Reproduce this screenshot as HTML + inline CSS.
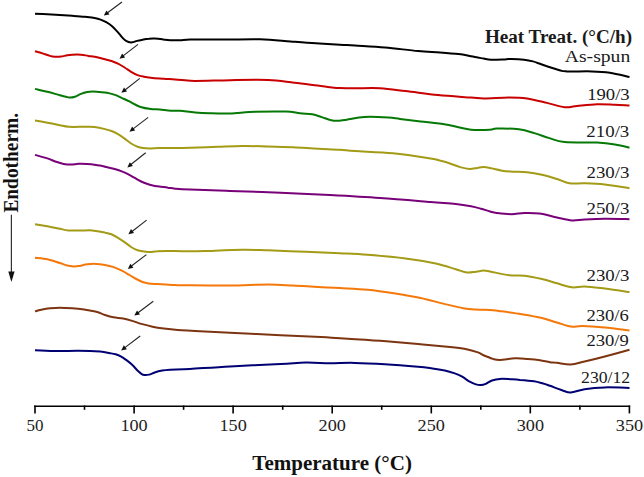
<!DOCTYPE html>
<html><head><meta charset="utf-8"><style>
html,body{margin:0;padding:0;background:#fff;}
svg{display:block;}
</style></head><body>
<svg width="644" height="477" viewBox="0 0 644 477">
<rect width="644" height="477" fill="#fff"/>
<path d="M35.0,13.7 C37.1,13.8 43.3,14.1 47.4,14.3 C51.5,14.5 55.6,14.7 59.8,14.9 C63.9,15.2 68.1,15.5 72.3,15.8 C76.5,16.1 81.0,16.4 84.7,16.8 C88.4,17.2 91.9,17.5 94.6,18.0 C97.2,18.5 98.7,18.9 100.6,19.6 C102.5,20.3 104.3,21.1 106.2,22.2 C108.1,23.3 110.1,24.6 111.8,26.0 C113.5,27.4 114.9,28.9 116.4,30.6 C118.0,32.3 119.7,34.6 121.1,36.2 C122.5,37.8 123.5,39.0 124.8,40.0 C126.0,41.0 127.3,41.6 128.6,42.0 C129.8,42.4 130.9,42.5 132.3,42.3 C133.7,42.1 135.1,41.4 137.0,40.9 C138.9,40.4 141.5,39.9 143.5,39.5 C145.5,39.1 147.2,38.9 149.1,38.8 C151.0,38.6 152.7,38.5 155.0,38.6 C157.3,38.7 160.5,39.1 163.0,39.4 C165.5,39.7 167.2,40.1 170.0,40.2 C172.8,40.3 176.7,40.3 180.0,40.2 C183.3,40.1 184.2,39.5 190.0,39.4 C195.8,39.3 203.3,39.6 215.0,39.6 C226.7,39.6 247.4,38.9 260.0,39.2 C272.6,39.5 281.4,40.8 290.7,41.5 C300.0,42.2 307.6,42.8 315.8,43.3 C324.0,43.8 333.5,44.4 340.0,44.8 C346.5,45.2 347.5,45.0 355.0,45.5 C362.5,46.0 374.5,46.6 385.0,47.5 C395.5,48.4 408.8,50.2 418.0,51.0 C427.2,51.8 433.2,51.9 440.0,52.4 C446.8,52.9 453.4,53.4 458.6,54.0 C463.8,54.6 466.9,55.5 471.0,56.3 C475.1,57.1 480.2,58.0 483.5,58.6 C486.8,59.2 487.4,59.6 491.0,59.7 C494.6,59.8 501.6,59.5 505.0,59.4 C508.4,59.3 508.2,58.8 511.4,58.9 C514.6,59.0 520.4,59.3 524.0,59.7 C527.6,60.1 530.0,60.6 533.0,61.4 C536.0,62.2 537.5,63.0 541.9,64.5 C546.3,66.0 555.3,69.0 559.5,70.2 C563.7,71.4 561.6,71.2 567.0,71.4 C572.4,71.6 584.9,71.2 592.0,71.4 C599.1,71.6 603.5,71.8 609.8,72.7 C616.0,73.6 626.2,76.3 629.5,77.0" stroke="#000000" stroke-width="2" fill="none" stroke-linejoin="round" stroke-linecap="butt"/>
<path d="M35.0,51.2 C36.2,51.6 40.0,52.6 42.5,53.4 C45.0,54.2 47.8,55.3 49.9,55.9 C52.0,56.5 53.0,56.7 54.9,56.8 C56.8,56.9 59.0,56.9 61.1,56.6 C63.2,56.3 65.4,55.5 67.3,55.2 C69.2,54.9 70.0,54.8 72.3,54.7 C74.6,54.6 78.3,54.5 81.0,54.7 C83.7,54.9 85.7,55.5 88.4,55.9 C91.1,56.3 94.3,56.6 97.1,57.2 C99.9,57.8 102.6,58.7 105.0,59.3 C107.4,59.9 109.3,60.3 111.5,61.0 C113.7,61.7 115.8,62.6 118.0,63.7 C120.2,64.8 122.4,66.2 124.6,67.5 C126.8,68.8 128.9,70.5 131.1,71.8 C133.3,73.1 135.4,74.3 137.6,75.1 C139.8,75.9 141.6,76.2 144.1,76.7 C146.6,77.2 149.5,77.7 152.8,78.0 C156.1,78.3 160.0,78.5 163.7,78.7 C167.4,79.0 171.4,79.2 175.0,79.5 C178.6,79.8 181.7,80.1 185.0,80.3 C188.3,80.5 187.5,80.9 195.0,80.9 C202.5,80.9 217.8,80.4 230.0,80.2 C242.2,80.0 257.3,79.6 268.0,80.0 C278.7,80.4 286.0,81.9 294.3,82.8 C302.6,83.7 311.7,84.9 317.6,85.6 C323.6,86.3 326.3,86.8 330.0,87.2 C333.7,87.6 335.8,87.9 340.0,88.1 C344.2,88.3 348.3,88.3 355.0,88.3 C361.7,88.3 371.6,87.7 380.0,88.2 C388.4,88.7 395.8,89.9 405.5,91.1 C415.2,92.2 427.1,94.0 438.0,95.1 C448.9,96.2 463.3,97.0 471.0,97.6 C478.7,98.1 477.7,98.4 484.0,98.4 C490.3,98.4 501.8,97.4 509.0,97.4 C516.2,97.4 520.7,97.5 527.0,98.4 C533.3,99.3 540.8,101.4 547.0,102.9 C553.2,104.4 559.5,106.7 564.5,107.2 C569.5,107.7 571.6,106.4 577.0,105.9 C582.4,105.4 590.7,104.4 597.0,104.2 C603.3,104.0 609.6,104.5 615.0,104.7 C620.4,104.9 627.1,105.4 629.5,105.5" stroke="#c80000" stroke-width="2" fill="none" stroke-linejoin="round" stroke-linecap="butt"/>
<path d="M35.0,88.9 C37.1,89.4 43.3,90.8 47.4,91.8 C51.5,92.8 56.7,94.4 59.8,95.2 C62.9,96.0 64.2,96.4 66.0,96.8 C67.8,97.2 68.9,97.6 70.4,97.6 C71.9,97.6 73.0,97.4 74.8,96.8 C76.6,96.2 78.9,94.7 81.0,93.9 C83.1,93.1 85.4,92.4 87.2,92.0 C89.0,91.6 90.0,91.4 92.1,91.4 C94.2,91.4 97.1,91.8 99.6,92.0 C102.1,92.2 104.4,92.2 107.0,92.7 C109.6,93.2 112.6,94.1 115.0,94.9 C117.4,95.8 119.1,96.7 121.5,97.8 C123.9,98.9 127.2,100.3 129.4,101.4 C131.7,102.5 133.1,103.6 135.0,104.5 C136.9,105.4 138.0,106.2 140.6,107.0 C143.2,107.8 147.6,108.6 150.8,109.0 C154.0,109.4 156.7,109.3 160.0,109.6 C163.3,109.9 167.6,110.5 170.9,110.7 C174.2,110.9 176.0,110.5 180.0,110.8 C184.0,111.1 190.0,112.1 195.0,112.5 C200.0,112.9 204.2,113.1 210.0,113.3 C215.8,113.5 222.4,113.8 230.0,113.5 C237.6,113.2 246.2,112.1 255.5,111.8 C264.8,111.5 278.3,111.4 285.7,111.6 C293.1,111.8 295.6,112.8 300.0,113.2 C304.4,113.7 308.8,113.7 312.4,114.3 C316.0,114.9 318.6,116.1 321.7,117.1 C324.8,118.1 328.2,119.6 331.1,120.2 C334.0,120.8 336.2,120.8 338.8,120.7 C341.4,120.6 343.2,120.2 346.6,119.7 C350.0,119.2 355.1,118.0 359.0,117.5 C362.9,117.0 365.1,116.8 370.0,116.8 C374.9,116.8 383.5,117.2 388.5,117.5 C393.5,117.8 394.6,118.2 400.0,118.9 C405.4,119.6 413.0,120.5 420.6,121.4 C428.2,122.3 439.4,123.4 445.7,124.4 C452.0,125.4 454.1,126.3 458.3,127.2 C462.5,128.1 465.7,129.3 471.0,129.7 C476.3,130.1 485.7,129.9 490.0,129.7 C494.3,129.5 491.8,128.7 496.6,128.6 C501.4,128.5 512.7,128.6 519.0,129.3 C525.3,130.1 529.2,131.6 534.3,133.1 C539.4,134.6 544.4,136.6 549.4,138.1 C554.4,139.6 556.6,141.2 564.5,141.9 C572.4,142.7 588.6,142.2 597.0,142.6 C605.4,143.0 609.6,143.6 615.0,144.4 C620.4,145.2 627.1,147.1 629.5,147.7" stroke="#067806" stroke-width="2" fill="none" stroke-linejoin="round" stroke-linecap="butt"/>
<path d="M35.0,120.6 C37.1,120.9 43.3,121.9 47.4,122.7 C51.5,123.5 56.3,124.5 59.8,125.2 C63.3,125.9 64.3,126.5 68.5,126.8 C72.7,127.1 80.4,126.8 84.7,126.8 C89.0,126.8 91.2,126.6 94.6,127.0 C98.0,127.4 102.2,128.4 105.0,129.1 C107.8,129.8 109.3,130.2 111.5,131.0 C113.7,131.8 115.8,132.9 118.0,134.2 C120.2,135.5 122.4,137.0 124.6,138.6 C126.8,140.2 128.9,142.2 131.1,143.5 C133.3,144.8 135.6,145.9 137.6,146.7 C139.6,147.4 141.0,147.7 143.0,148.0 C145.0,148.3 146.9,148.4 149.6,148.4 C152.3,148.4 155.1,148.1 159.3,148.0 C163.5,147.9 169.9,148.0 175.0,148.0 C180.1,148.0 182.9,148.0 190.0,147.8 C197.1,147.6 208.9,147.1 217.7,146.8 C226.5,146.5 234.6,146.1 243.0,146.0 C251.4,145.9 259.7,146.3 268.0,146.5 C276.3,146.7 284.6,146.9 293.0,147.3 C301.4,147.7 310.6,148.4 318.4,148.8 C326.2,149.2 333.9,149.4 340.0,149.8 C346.1,150.2 346.2,150.5 355.0,151.1 C363.8,151.7 380.4,152.1 393.0,153.3 C405.6,154.5 422.8,157.2 430.6,158.4 C438.4,159.6 436.9,159.8 440.0,160.6 C443.1,161.4 445.9,162.1 449.3,163.2 C452.7,164.3 456.8,166.1 460.2,167.1 C463.6,168.1 466.6,168.8 469.5,168.9 C472.4,169.0 475.0,168.2 477.3,167.9 C479.6,167.6 481.2,167.0 483.5,167.1 C485.8,167.2 488.1,167.7 491.2,168.3 C494.3,168.9 498.5,170.1 502.1,170.7 C505.7,171.3 508.9,171.4 513.0,171.7 C517.1,171.9 522.2,171.7 527.0,172.2 C531.8,172.7 536.9,173.6 541.9,174.7 C546.9,175.8 552.4,177.6 557.0,179.0 C561.6,180.4 564.9,182.6 569.5,183.3 C574.1,184.0 578.7,183.1 584.6,183.3 C590.5,183.5 597.3,183.7 604.8,184.5 C612.3,185.3 625.4,187.7 629.5,188.3" stroke="#a39b16" stroke-width="2" fill="none" stroke-linejoin="round" stroke-linecap="butt"/>
<path d="M35.0,154.9 C37.1,155.5 43.9,157.2 47.4,158.4 C50.9,159.6 53.4,160.9 56.1,161.8 C58.8,162.7 61.1,163.4 63.6,163.9 C66.1,164.4 68.5,164.6 71.0,164.6 C73.5,164.6 75.8,163.9 78.5,163.8 C81.2,163.7 84.5,163.8 87.2,164.0 C89.9,164.2 92.1,164.4 94.6,164.7 C97.1,165.0 100.4,165.6 102.1,165.9 C103.8,166.2 103.1,166.2 105.0,166.7 C106.9,167.2 110.8,167.9 113.7,168.7 C116.6,169.5 119.5,170.5 122.4,171.7 C125.3,172.9 128.6,174.5 131.1,175.8 C133.6,177.1 135.4,178.4 137.6,179.6 C139.8,180.8 141.9,181.9 144.1,182.8 C146.3,183.7 148.2,184.4 150.7,185.0 C153.2,185.6 156.4,186.2 159.3,186.6 C162.2,187.0 165.4,187.3 168.0,187.7 C170.6,188.0 171.3,188.4 175.0,188.7 C178.7,189.0 180.8,189.2 190.0,189.6 C199.2,190.0 214.9,190.4 230.0,190.9 C245.1,191.4 263.9,192.1 280.6,192.8 C297.3,193.5 313.4,194.2 330.0,195.1 C346.6,196.0 363.2,196.9 380.0,198.1 C396.8,199.2 418.0,201.0 430.6,202.0 C443.2,203.0 449.1,203.2 455.8,203.9 C462.5,204.6 466.8,205.4 471.0,206.2 C475.2,207.0 477.8,207.8 481.0,208.7 C484.2,209.6 487.4,210.8 490.0,211.5 C492.6,212.2 493.0,212.6 496.6,213.0 C500.2,213.4 507.1,214.2 511.7,214.2 C516.3,214.2 519.7,213.1 524.3,213.0 C528.9,212.9 533.8,212.8 539.3,213.5 C544.8,214.2 551.5,216.3 557.0,217.5 C562.5,218.7 567.4,220.2 572.0,220.5 C576.6,220.8 579.1,219.8 584.6,219.5 C590.1,219.2 597.3,218.8 604.8,218.7 C612.3,218.6 625.4,219.1 629.5,219.2" stroke="#780078" stroke-width="2" fill="none" stroke-linejoin="round" stroke-linecap="butt"/>
<path d="M35.0,224.2 C37.1,224.5 43.3,225.5 47.4,226.3 C51.5,227.1 56.3,228.1 59.8,228.8 C63.3,229.5 65.1,230.1 68.5,230.4 C71.9,230.7 76.1,230.5 80.0,230.5 C83.9,230.5 88.4,230.2 92.1,230.4 C95.8,230.6 99.9,231.5 102.1,231.9 C104.2,232.3 103.4,232.2 105.0,232.6 C106.6,233.0 109.3,233.4 111.5,234.3 C113.7,235.2 115.8,236.5 118.0,237.8 C120.2,239.1 122.4,240.6 124.6,242.1 C126.8,243.6 128.9,245.6 131.1,247.0 C133.3,248.4 135.4,249.6 137.6,250.3 C139.8,251.0 141.9,251.1 144.1,251.4 C146.3,251.7 148.5,252.0 150.7,252.0 C152.9,252.0 153.1,251.3 157.2,251.2 C161.2,251.0 169.5,251.1 175.0,251.1 C180.5,251.1 185.0,251.3 190.0,251.3 C195.0,251.3 196.2,251.3 205.0,251.1 C213.8,250.8 232.5,249.9 243.0,249.8 C253.5,249.7 257.5,250.0 268.0,250.3 C278.5,250.6 293.8,251.3 305.8,251.8 C317.8,252.3 329.7,252.8 340.0,253.3 C350.3,253.8 356.8,254.0 367.7,254.8 C378.6,255.7 394.2,257.0 405.5,258.4 C416.8,259.8 427.3,261.6 435.7,263.4 C444.1,265.2 450.6,267.7 455.8,269.2 C461.0,270.7 463.6,272.1 467.0,272.5 C470.4,272.9 473.2,272.0 476.0,271.7 C478.8,271.4 481.2,270.6 483.5,270.6 C485.8,270.6 485.7,270.7 490.0,271.5 C494.3,272.3 503.5,274.5 509.2,275.2 C514.9,275.9 518.8,275.1 524.3,275.7 C529.8,276.3 536.4,277.7 541.9,279.0 C547.4,280.3 552.0,281.9 557.0,283.3 C562.0,284.7 567.4,286.8 572.0,287.3 C576.6,287.8 579.1,286.3 584.6,286.5 C590.1,286.7 597.3,287.7 604.8,288.6 C612.3,289.5 625.4,291.5 629.5,292.1" stroke="#a39b16" stroke-width="2" fill="none" stroke-linejoin="round" stroke-linecap="butt"/>
<path d="M35.0,257.7 C37.1,258.0 43.3,258.4 47.4,259.3 C51.5,260.2 56.5,262.0 59.8,263.0 C63.1,264.0 65.0,264.9 67.3,265.5 C69.6,266.1 71.4,266.3 73.5,266.4 C75.6,266.5 77.4,266.2 79.7,265.9 C82.0,265.5 84.5,264.6 87.2,264.3 C89.9,264.0 92.9,263.8 95.9,263.9 C98.9,264.0 102.0,264.4 105.0,264.9 C108.0,265.4 110.8,266.1 113.7,267.1 C116.6,268.1 119.9,269.6 122.4,270.9 C124.9,272.2 126.7,273.4 128.9,274.7 C131.1,276.0 133.2,277.3 135.4,278.5 C137.6,279.7 139.8,280.9 142.0,281.7 C144.2,282.5 146.0,283.0 148.5,283.4 C151.0,283.8 154.3,283.9 157.2,284.1 C160.1,284.3 162.9,284.3 165.9,284.5 C168.9,284.7 171.0,285.0 175.0,285.1 C179.0,285.2 180.8,285.2 190.0,285.3 C199.2,285.4 217.0,285.6 230.0,285.5 C243.0,285.4 257.5,284.5 268.0,284.5 C278.5,284.5 284.6,285.1 293.0,285.5 C301.4,285.9 310.6,286.6 318.4,287.0 C326.2,287.4 331.8,287.5 340.0,288.0 C348.2,288.5 358.5,288.9 367.7,289.8 C376.9,290.7 386.6,292.2 395.4,293.6 C404.2,295.0 412.6,296.4 420.6,298.1 C428.6,299.8 436.1,301.9 443.2,303.6 C450.3,305.3 457.8,307.2 463.3,308.2 C468.8,309.2 471.6,309.3 476.0,309.6 C480.4,309.9 486.2,309.8 490.0,310.0 C493.8,310.2 493.7,310.3 499.0,311.0 C504.3,311.7 514.6,313.0 521.7,314.2 C528.9,315.4 536.0,316.6 541.9,318.0 C547.8,319.4 552.2,321.1 557.0,322.5 C561.8,323.9 566.6,326.0 570.8,326.6 C575.0,327.2 576.3,325.9 582.0,326.0 C587.7,326.1 596.9,326.7 604.8,327.5 C612.7,328.3 625.4,330.1 629.5,330.6" stroke="#f5780a" stroke-width="2" fill="none" stroke-linejoin="round" stroke-linecap="butt"/>
<path d="M35.0,311.4 C36.0,311.1 38.7,310.2 41.2,309.7 C43.7,309.2 46.8,308.6 49.9,308.3 C53.0,308.0 56.1,307.7 59.8,307.7 C63.5,307.7 68.6,308.0 72.3,308.3 C76.0,308.6 79.3,308.9 82.2,309.3 C85.1,309.7 87.2,310.2 89.7,310.6 C92.2,311.1 95.0,311.4 97.1,312.0 C99.2,312.6 100.8,313.4 102.1,313.9 C103.4,314.4 103.1,314.4 105.0,315.0 C106.9,315.6 110.4,316.7 113.4,317.3 C116.4,317.9 119.9,318.0 123.2,318.6 C126.5,319.2 130.0,320.2 133.0,321.1 C136.0,322.0 138.1,323.0 141.3,323.9 C144.6,324.8 148.8,325.9 152.5,326.7 C156.2,327.5 159.5,328.0 163.7,328.5 C167.9,329.0 172.5,329.5 177.7,329.9 C182.9,330.3 186.3,330.4 195.0,330.9 C203.7,331.4 215.7,332.0 230.0,332.7 C244.3,333.4 265.5,334.5 280.6,335.2 C295.8,335.9 311.0,336.5 320.9,337.0 C330.8,337.5 330.1,337.6 340.0,338.2 C349.9,338.8 367.0,339.8 380.0,340.8 C393.0,341.8 406.3,343.0 418.0,344.0 C429.7,345.0 442.1,346.2 450.0,347.0 C457.9,347.8 460.8,348.1 465.5,349.0 C470.2,349.9 475.1,351.4 478.0,352.4 C480.9,353.4 481.3,354.2 483.0,355.0 C484.7,355.8 486.3,356.4 488.0,357.0 C489.7,357.6 491.0,358.4 493.0,358.9 C495.0,359.4 496.3,360.0 500.0,359.9 C503.7,359.8 510.4,358.5 515.0,358.3 C519.6,358.1 523.4,358.6 527.6,358.9 C531.8,359.2 536.3,359.6 540.0,360.2 C543.7,360.8 547.2,361.8 550.0,362.2 C552.8,362.6 553.5,362.4 557.0,362.8 C560.5,363.2 566.2,364.7 570.8,364.5 C575.4,364.3 578.9,362.8 584.6,361.5 C590.3,360.2 597.3,358.5 604.8,356.5 C612.3,354.5 625.4,350.8 629.5,349.7" stroke="#7d3410" stroke-width="2" fill="none" stroke-linejoin="round" stroke-linecap="butt"/>
<path d="M35.0,350.3 C38.6,350.4 49.5,351.0 56.7,351.1 C64.0,351.2 71.2,350.6 78.5,350.7 C85.8,350.8 95.0,351.2 100.2,351.6 C105.5,352.0 107.4,352.8 110.0,353.2 C112.6,353.6 113.7,353.7 115.6,354.3 C117.5,354.9 119.3,355.6 121.2,356.6 C123.1,357.6 124.9,359.0 126.8,360.4 C128.7,361.8 130.5,363.2 132.4,365.0 C134.3,366.8 136.4,369.6 138.0,371.1 C139.6,372.6 140.6,373.5 141.7,374.1 C142.8,374.8 143.3,374.9 144.5,375.0 C145.7,375.1 147.4,375.0 149.1,374.6 C150.8,374.2 152.5,373.2 154.7,372.5 C156.9,371.8 159.6,371.1 162.2,370.6 C164.8,370.1 165.4,370.0 170.0,369.7 C174.6,369.4 180.0,369.6 190.0,369.0 C200.0,368.4 214.9,367.2 230.0,366.4 C245.1,365.6 268.0,364.6 280.6,364.0 C293.2,363.4 297.6,362.7 305.8,362.6 C314.0,362.5 321.8,363.1 330.0,363.2 C338.2,363.2 345.8,362.7 355.0,362.9 C364.2,363.1 374.5,363.6 385.0,364.2 C395.5,364.8 410.1,366.0 418.0,366.7 C425.9,367.4 427.9,367.8 432.4,368.4 C436.9,369.0 441.1,369.7 444.8,370.5 C448.5,371.3 451.9,372.4 454.8,373.4 C457.7,374.4 459.7,375.3 462.2,376.7 C464.7,378.1 467.4,380.4 469.7,381.7 C472.0,383.0 474.0,383.8 475.9,384.4 C477.8,385.0 479.2,385.2 480.9,385.1 C482.5,385.0 483.9,384.6 485.8,383.8 C487.7,383.0 489.6,381.3 492.0,380.5 C494.4,379.7 497.0,379.1 500.0,378.9 C503.0,378.7 506.7,379.0 510.0,379.2 C513.3,379.4 516.0,379.5 520.0,379.9 C524.0,380.2 530.1,380.7 534.0,381.3 C537.9,381.9 540.5,382.8 543.2,383.5 C545.9,384.2 546.9,384.7 550.0,385.8 C553.1,386.9 558.5,389.1 562.0,390.2 C565.5,391.3 567.0,392.7 570.8,392.5 C574.6,392.3 578.9,390.1 584.6,389.2 C590.3,388.3 597.3,387.6 604.8,387.4 C612.3,387.2 625.4,387.8 629.5,387.9" stroke="#000073" stroke-width="2" fill="none" stroke-linejoin="round" stroke-linecap="butt"/>
<line x1="122.0" y1="2.0" x2="107.2" y2="13.0" stroke="#222" stroke-width="1.1"/><polygon points="103.8,15.5 106.5,10.4 109.5,14.4" fill="#111"/>
<line x1="138.0" y1="44.4" x2="122.8" y2="56.1" stroke="#222" stroke-width="1.1"/><polygon points="119.5,58.7 122.1,53.5 125.1,57.5" fill="#111"/>
<line x1="139.8" y1="78.4" x2="124.7" y2="90.2" stroke="#222" stroke-width="1.1"/><polygon points="121.4,92.8 124.0,87.6 127.0,91.6" fill="#111"/>
<line x1="148.2" y1="117.4" x2="132.8" y2="129.1" stroke="#222" stroke-width="1.1"/><polygon points="129.5,131.7 132.1,126.6 135.1,130.5" fill="#111"/>
<line x1="145.7" y1="152.8" x2="130.6" y2="164.8" stroke="#222" stroke-width="1.1"/><polygon points="127.3,167.4 129.8,162.2 132.9,166.1" fill="#111"/>
<line x1="146.6" y1="220.1" x2="131.7" y2="231.7" stroke="#222" stroke-width="1.1"/><polygon points="128.4,234.3 131.0,229.1 134.0,233.1" fill="#111"/>
<line x1="146.4" y1="254.6" x2="131.1" y2="266.3" stroke="#222" stroke-width="1.1"/><polygon points="127.8,268.9 130.4,263.7 133.4,267.7" fill="#111"/>
<line x1="153.3" y1="301.2" x2="137.7" y2="313.0" stroke="#222" stroke-width="1.1"/><polygon points="134.3,315.5 137.0,310.4 140.0,314.4" fill="#111"/>
<line x1="140.2" y1="336.0" x2="124.5" y2="347.9" stroke="#222" stroke-width="1.1"/><polygon points="121.2,350.4 123.8,345.3 126.9,349.3" fill="#111"/>
<line x1="34.2" y1="406.2" x2="630.1999999999999" y2="406.2" stroke="#000" stroke-width="1.6"/>
<line x1="35.0" y1="405.5" x2="35.0" y2="413.4" stroke="#000" stroke-width="1.6"/>
<text x="26.5" y="430.7" textLength="17.0" lengthAdjust="spacingAndGlyphs" font-size="17" font-family="Liberation Serif" fill="#222">50</text>
<line x1="84.5" y1="405.5" x2="84.5" y2="409.8" stroke="#000" stroke-width="1.6"/>
<line x1="134.1" y1="405.5" x2="134.1" y2="413.4" stroke="#000" stroke-width="1.6"/>
<text x="120.4" y="430.7" textLength="27.3" lengthAdjust="spacingAndGlyphs" font-size="17" font-family="Liberation Serif" fill="#222">100</text>
<line x1="183.6" y1="405.5" x2="183.6" y2="409.8" stroke="#000" stroke-width="1.6"/>
<line x1="233.1" y1="405.5" x2="233.1" y2="413.4" stroke="#000" stroke-width="1.6"/>
<text x="219.5" y="430.7" textLength="27.3" lengthAdjust="spacingAndGlyphs" font-size="17" font-family="Liberation Serif" fill="#222">150</text>
<line x1="282.7" y1="405.5" x2="282.7" y2="409.8" stroke="#000" stroke-width="1.6"/>
<line x1="332.2" y1="405.5" x2="332.2" y2="413.4" stroke="#000" stroke-width="1.6"/>
<text x="318.6" y="430.7" textLength="27.3" lengthAdjust="spacingAndGlyphs" font-size="17" font-family="Liberation Serif" fill="#222">200</text>
<line x1="381.7" y1="405.5" x2="381.7" y2="409.8" stroke="#000" stroke-width="1.6"/>
<line x1="431.3" y1="405.5" x2="431.3" y2="413.4" stroke="#000" stroke-width="1.6"/>
<text x="417.6" y="430.7" textLength="27.3" lengthAdjust="spacingAndGlyphs" font-size="17" font-family="Liberation Serif" fill="#222">250</text>
<line x1="480.8" y1="405.5" x2="480.8" y2="409.8" stroke="#000" stroke-width="1.6"/>
<line x1="530.3" y1="405.5" x2="530.3" y2="413.4" stroke="#000" stroke-width="1.6"/>
<text x="516.7" y="430.7" textLength="27.3" lengthAdjust="spacingAndGlyphs" font-size="17" font-family="Liberation Serif" fill="#222">300</text>
<line x1="579.9" y1="405.5" x2="579.9" y2="409.8" stroke="#000" stroke-width="1.6"/>
<line x1="629.4" y1="405.5" x2="629.4" y2="413.4" stroke="#000" stroke-width="1.6"/>
<text x="615.8" y="430.7" textLength="27.3" lengthAdjust="spacingAndGlyphs" font-size="17" font-family="Liberation Serif" fill="#222">350</text>
<text x="484.90" y="42.5" textLength="147.23" lengthAdjust="spacingAndGlyphs" font-size="18" font-weight="bold" font-family="Liberation Serif" fill="#1a1a1a">Heat Treat. (°C/h)</text>
<text x="564.80" y="62.0" textLength="65.42" lengthAdjust="spacingAndGlyphs" font-size="16" font-weight="normal" font-family="Liberation Serif" fill="#1a1a1a">As-spun</text>
<text x="587.21" y="99.7" textLength="42.50" lengthAdjust="spacingAndGlyphs" font-size="17" font-weight="normal" font-family="Liberation Serif" fill="#1a1a1a">190/3</text>
<text x="586.38" y="136.8" textLength="42.93" lengthAdjust="spacingAndGlyphs" font-size="17" font-weight="normal" font-family="Liberation Serif" fill="#1a1a1a">210/3</text>
<text x="586.48" y="178.1" textLength="42.93" lengthAdjust="spacingAndGlyphs" font-size="17" font-weight="normal" font-family="Liberation Serif" fill="#1a1a1a">230/3</text>
<text x="586.48" y="213.8" textLength="42.93" lengthAdjust="spacingAndGlyphs" font-size="17" font-weight="normal" font-family="Liberation Serif" fill="#1a1a1a">250/3</text>
<text x="586.59" y="281.4" textLength="42.82" lengthAdjust="spacingAndGlyphs" font-size="17" font-weight="normal" font-family="Liberation Serif" fill="#1a1a1a">230/3</text>
<text x="586.41" y="321.0" textLength="42.39" lengthAdjust="spacingAndGlyphs" font-size="17" font-weight="normal" font-family="Liberation Serif" fill="#1a1a1a">230/6</text>
<text x="586.41" y="346.4" textLength="42.39" lengthAdjust="spacingAndGlyphs" font-size="17" font-weight="normal" font-family="Liberation Serif" fill="#1a1a1a">230/9</text>
<text x="581.06" y="382.9" textLength="49.08" lengthAdjust="spacingAndGlyphs" font-size="17" font-weight="normal" font-family="Liberation Serif" fill="#1a1a1a">230/12</text>
<text x="252.3" y="469.5" textLength="159.6" lengthAdjust="spacingAndGlyphs" font-size="20" font-weight="bold" font-family="Liberation Serif" fill="#111">Temperature (°C)</text>
<text transform="translate(17.9,212.6) rotate(-90)" x="0" y="0" textLength="99.6" lengthAdjust="spacingAndGlyphs" font-size="20" font-weight="bold" font-family="Liberation Serif" fill="#111">Endotherm.</text>
<line x1="11.4" y1="214.8" x2="11.4" y2="274" stroke="#333" stroke-width="1.2"/>
<polygon points="8.3,271.6 14.6,271.6 11.4,282" fill="#111"/>
</svg>
</body></html>
